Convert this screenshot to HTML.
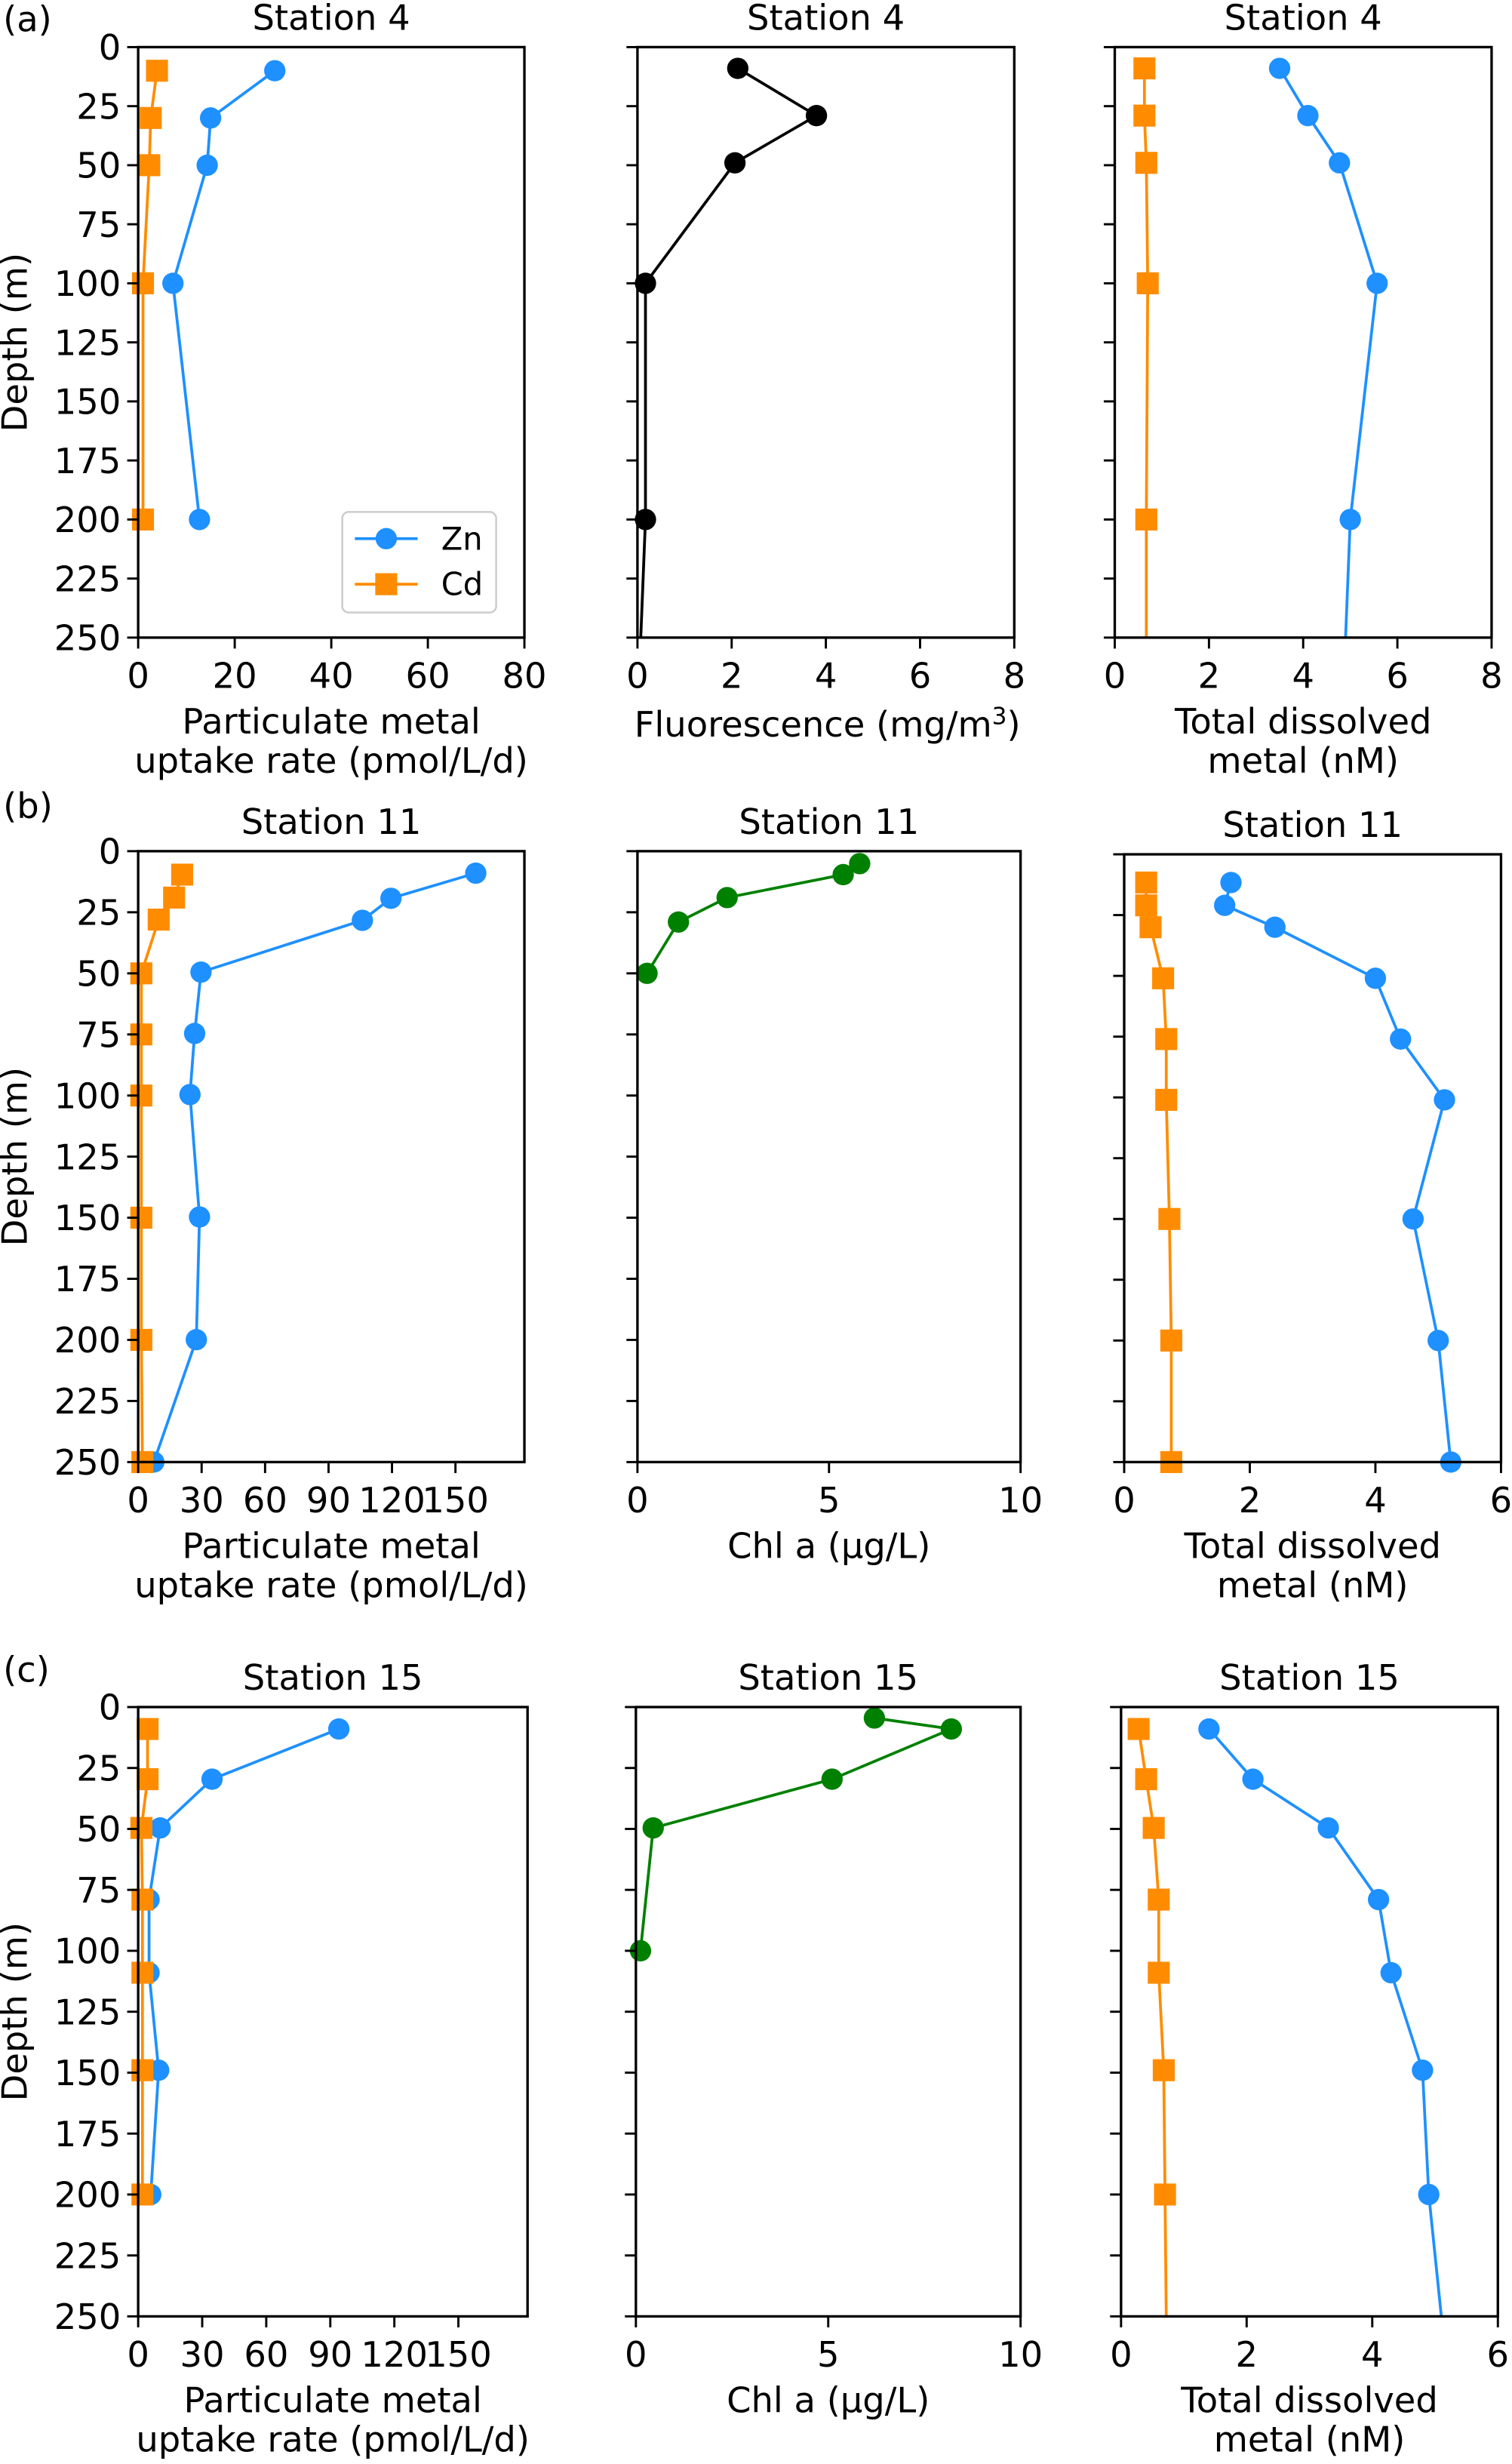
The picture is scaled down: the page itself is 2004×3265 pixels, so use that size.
<!DOCTYPE html>
<html><head><meta charset="utf-8">
<style>
html,body{margin:0;padding:0;background:#fff;}
svg{display:block;font-family:"DejaVu Sans","Liberation Sans",sans-serif;}
</style></head>
<body>
<svg id="fig" width="2004" height="3265" viewBox="0 0 963 1569" preserveAspectRatio="none" xmlns="http://www.w3.org/2000/svg"></svg>
<script>
// ---- data ----
const depthTicks = [0,25,50,75,100,125,150,175,200,225,250];
// Row a, Station 4
const a1Depth = [10,30,50,100,200];
const a1Zn = [28.3,15,14.3,7.2,12.7];
const a1Cd = [3.9,2.6,2.3,1,1];
const a2Depth = [9,29,49,100,200,250];
const a2Fluor = [2.13,3.8,2.07,0.17,0.17,0.07];
const a3Depth = [9,29,49,100,200,250];
const a3Zn = [3.5,4.1,4.77,5.57,5.0,4.9];
const a3Cd = [0.63,0.63,0.67,0.7,0.67,0.67];
// Row b, Station 11
const b1Depth = [9,19.3,28.3,49.5,74.6,99.6,149.7,199.9,250];
const b1Zn = [159.6,119.5,106,29.7,26.7,24.5,29,27.5,7.4];
const b1CdDepth = [9.6,19,28,50,75,100,150,200,250];
const b1Cd = [20.8,17,9.7,1.5,1.5,1.5,1.5,1.5,2];
const b2Depth = [5.1,9.6,19,29,50];
const b2Chl = [5.8,5.37,2.34,1.07,0.25];
const b3Depth = [11.6,21,30,51,76,101,150,200,250];
const b3Zn = [1.7,1.6,2.4,4.0,4.4,5.1,4.6,5.0,5.2];
const b3Cd = [0.35,0.35,0.42,0.62,0.67,0.67,0.72,0.75,0.75];
// Row c, Station 15
const c1Depth = [9,29.6,49.6,79,109,149,200];
const c1Zn = [94,34.6,10.3,5.1,5.1,9.6,5.9];
const c1Cd = [4.4,4.4,1.5,2,2,2,2];
const c2Depth = [4.5,9,29.6,49.6,100];
const c2Chl = [6.2,8.2,5.1,0.45,0.12];
const c3Depth = [9,29.6,49.6,79,109,149,200,250];
const c3Zn = [1.4,2.1,3.3,4.1,4.3,4.8,4.9,5.1];
const c3Cd = [0.28,0.4,0.52,0.6,0.6,0.68,0.7,0.72];

const BLUE="#1e90ff", ORANGE="#ff8c00", GREEN="#008000", BLACK="#000";
const FS=22.3;
const NS="http://www.w3.org/2000/svg";
const svg=document.getElementById('fig');
function el(tag,attrs,parent){const e=document.createElementNS(NS,tag);for(const k in attrs)e.setAttribute(k,attrs[k]);(parent||svg).appendChild(e);return e;}
function txt(s,x,y,attrs,parent){const t=el('text',Object.assign({x:x,y:y,'font-size':FS,'text-anchor':'middle',fill:'#000'},attrs||{}),parent);t.textContent=s;return t;}

function panel(p){
  const g=el('g',{});
  
  
  const sx=v=>p.x0+(v-0)/p.xmax*(p.x1-p.x0);
  const sy=d=>p.y0+d/250*(p.y1-p.y0);
  p.series.forEach(s=>{
    const sg=el('g',{},g);
    
    
    const pts=s.x.map((v,i)=>sx(v)+','+sy(s.d[i])).join(' ');
    const ln=el('polyline',{points:pts,fill:'none',stroke:s.color,'stroke-width':1.8},sg);
    
    
    const n=s.noLast? s.x.length-1 : s.x.length;
    for(let i=0;i<n;i++){
      let m;
      if(s.marker==='sq'){m=el('rect',{x:sx(s.x[i])-7,y:sy(s.d[i])-7,width:14,height:14,fill:s.color},sg);}
      else {m=el('circle',{cx:sx(s.x[i]),cy:sy(s.d[i]),r:6.8,fill:s.color},sg);}
      
      
    }
  });
  const fr=el('rect',{x:p.x0,y:p.y0,width:p.x1-p.x0,height:p.y1-p.y0,fill:'none',stroke:'#000','stroke-width':1.6},g);
  
  
  depthTicks.forEach(d=>{
    el('line',{x1:p.x0-7,x2:p.x0,y1:sy(d),y2:sy(d),stroke:'#000','stroke-width':1.4},g);
    if(p.ylabels){const t=txt(String(d),p.x0-11,sy(d)+8,{'text-anchor':'end'},g);
      
      }
  });
  p.xticks.forEach((v,i)=>{
    el('line',{x1:sx(v),x2:sx(v),y1:p.y1,y2:p.y1+7,stroke:'#000','stroke-width':1.4},g);
    const t=txt(String(v),sx(v),p.y1+32,{},g);
    
    
  });
  const tt=txt(p.title,(p.x0+p.x1)/2,p.y0-11,{},g);
  
  
  p.xlabel.forEach((l,i)=>{
    const t=txt(l,(p.x0+p.x1)/2,p.y1+61+i*25,{},g);
    
    
  });
  if(p.ylabels){
    const t=txt('Depth (m)',0,0,{transform:'translate(17,'+((p.y0+p.y1)/2)+') rotate(-90)'},g);
    
    
  }
}
const upt=['Particulate metal','uptake rate (pmol/L/d)'];
const tdm=['Total dissolved','metal (nM)'];
const xt1=[0,30,60,90,120,150];
panel({name:'panel-a-uptake',x0:88,x1:334,y0:30,y1:406,xmax:80,xticks:[0,20,40,60,80],ylabels:true,title:'Station 4',xlabel:upt,
 series:[{name:'zn-series',x:a1Zn,d:a1Depth,color:BLUE,marker:'o'},{name:'cd-series',x:a1Cd,d:a1Depth,color:ORANGE,marker:'sq'}]});
panel({name:'panel-a-fluorescence',x0:406,x1:646,y0:30,y1:406,xmax:8,xticks:[0,2,4,6,8],title:'Station 4',xlabel:[],
 series:[{name:'fluorescence-series',x:a2Fluor,d:a2Depth,color:BLACK,marker:'o',noLast:true}]});
txt('Fluorescence (mg/m',527,469,{}).innerHTML='Fluorescence (mg/m<tspan dy="-8" font-size="15">3</tspan><tspan dy="8">)</tspan>';
panel({name:'panel-a-dissolved',x0:710,x1:950,y0:30,y1:406,xmax:8,xticks:[0,2,4,6,8],title:'Station 4',xlabel:tdm,
 series:[{name:'zn-series',x:a3Zn,d:a3Depth,color:BLUE,marker:'o',noLast:true},{name:'cd-series',x:a3Cd,d:a3Depth,color:ORANGE,marker:'sq',noLast:true}]});
const lg=el('g',{});


el('rect',{x:218,y:326,width:98,height:64,rx:4,fill:'#fff',stroke:'#ccc','stroke-width':1.2},lg);
el('line',{x1:226,x2:266,y1:343,y2:343,stroke:BLUE,'stroke-width':1.8},lg);
el('circle',{cx:246,cy:343,r:6.8,fill:BLUE},lg);
txt('Zn',281,350,{'text-anchor':'start','font-size':20},lg);
el('line',{x1:226,x2:266,y1:372,y2:372,stroke:ORANGE,'stroke-width':1.8},lg);
el('rect',{x:239,y:365,width:14,height:14,fill:ORANGE},lg);
txt('Cd',281,379,{'text-anchor':'start','font-size':20},lg);
panel({name:'panel-b-uptake',x0:88,x1:334,y0:542,y1:931,xmax:182.6,xticks:xt1,ylabels:true,title:'Station 11',xlabel:upt,
 series:[{name:'zn-series',x:b1Zn,d:b1Depth,color:BLUE,marker:'o'},{name:'cd-series',x:b1Cd,d:b1CdDepth,color:ORANGE,marker:'sq'}]});
panel({name:'panel-b-chl',x0:406,x1:650,y0:542,y1:931,xmax:10,xticks:[0,5,10],title:'Station 11',xlabel:['Chl a (µg/L)'],
 series:[{name:'chl-series',x:b2Chl,d:b2Depth,color:GREEN,marker:'o'}]});
panel({name:'panel-b-dissolved',x0:716,x1:956,y0:544,y1:931,xmax:6,xticks:[0,2,4,6],title:'Station 11',xlabel:tdm,
 series:[{name:'zn-series',x:b3Zn,d:b3Depth,color:BLUE,marker:'o'},{name:'cd-series',x:b3Cd,d:b3Depth,color:ORANGE,marker:'sq'}]});
panel({name:'panel-c-uptake',x0:88,x1:336,y0:1087,y1:1475,xmax:182.4,xticks:xt1,ylabels:true,title:'Station 15',xlabel:upt,
 series:[{name:'zn-series',x:c1Zn,d:c1Depth,color:BLUE,marker:'o'},{name:'cd-series',x:c1Cd,d:c1Depth,color:ORANGE,marker:'sq'}]});
panel({name:'panel-c-chl',x0:405,x1:650,y0:1087,y1:1475,xmax:10,xticks:[0,5,10],title:'Station 15',xlabel:['Chl a (µg/L)'],
 series:[{name:'chl-series',x:c2Chl,d:c2Depth,color:GREEN,marker:'o'}]});
panel({name:'panel-c-dissolved',x0:714,x1:954,y0:1087,y1:1475,xmax:6,xticks:[0,2,4,6],title:'Station 15',xlabel:tdm,
 series:[{name:'zn-series',x:c3Zn,d:c3Depth,color:BLUE,marker:'o',noLast:true},{name:'cd-series',x:c3Cd,d:c3Depth,color:ORANGE,marker:'sq',noLast:true}]});
[['(a)',20],['(b)',521],['(c)',1071]].forEach(r=>{
  const t=txt(r[0],2,r[1],{'text-anchor':'start'});
  
  
});
</script>
</body></html>
